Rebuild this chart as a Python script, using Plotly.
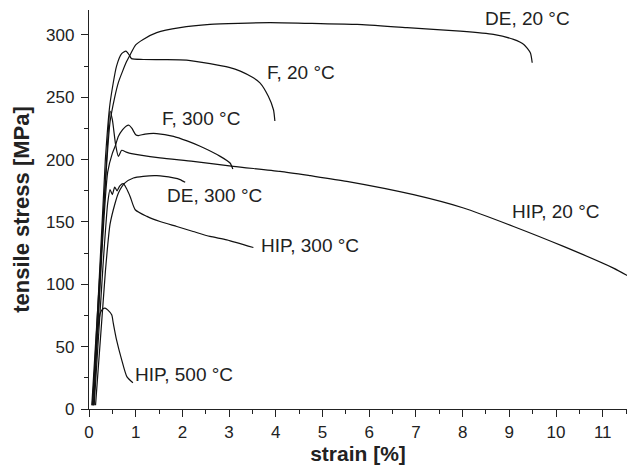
import plotly.graph_objects as go

# ---- data (strain [%], tensile stress [MPa]) ----
de20_x = [0.10, 0.30, 0.45, 0.55, 0.63, 0.72, 0.81, 0.88, 1.00, 1.16, 1.45, 1.95, 2.59, 3.20, 3.88, 4.77, 5.74, 6.81, 7.95, 8.66, 9.09, 9.31, 9.45, 9.49]
de20_y = [3, 150, 230, 250, 262, 271, 279, 284, 292, 296.4, 301.8, 305.8, 308.4, 309.3, 309.8, 309.2, 308.4, 305.8, 303, 300.4, 296.4, 292.4, 285.7, 277.7]

f20_x = [0.08, 0.35, 0.45, 0.59, 0.70, 0.79, 0.86, 0.91, 1.16, 1.60, 2.09, 2.59, 3.00, 3.24, 3.50, 3.66, 3.84, 3.95, 3.98]
f20_y = [3, 200, 245, 275, 285, 287, 284, 281, 280.3, 280.2, 279.8, 277, 274, 271, 266, 261.6, 250.8, 240, 231]

f300_x = [0.10, 0.40, 0.50, 0.56, 0.63, 0.72, 0.80, 0.857, 0.92, 1.00, 1.06, 1.20, 1.45, 1.81, 2.10, 2.38, 2.81, 3.02, 3.08]
f300_y = [3, 190, 205, 210.7, 218.7, 224, 227, 227.6, 225, 220, 219.3, 220.5, 220.9, 218.7, 215, 210.7, 202.6, 197.3, 192.5]

hip20_x = [0.06, 0.30, 0.40, 0.45, 0.50, 0.57, 0.63, 0.70, 0.80, 0.91, 1.52, 2.23, 3.09, 4.09, 4.74, 5.52, 6.95, 8.02, 9.09, 10.16, 11.23, 11.56]
hip20_y = [3, 150, 215, 239, 232, 212, 202.6, 207.5, 206, 204.8, 201.4, 198.6, 194.6, 190.6, 187.1, 182.6, 171.9, 161.2, 146.4, 130.4, 113, 106.3]

de300_x = [0.14, 0.35, 0.45, 0.56, 0.63, 0.77, 0.95, 1.16, 1.45, 1.81, 1.95, 2.06]
de300_y = [3, 110, 148, 165.2, 173.3, 181.3, 185.3, 186.6, 187.1, 185.3, 184, 181.8]

hip300_x = [0.11, 0.30, 0.40, 0.45, 0.50, 0.55, 0.60, 0.66, 0.735, 0.80, 0.88, 0.99, 1.24, 1.52, 1.88, 2.23, 2.59, 2.95, 3.52]
hip300_y = [3, 115, 165, 176, 172, 178, 175, 179, 180.7, 177, 170.5, 159.8, 154.5, 150.4, 146.4, 142.4, 138.4, 135.7, 129.5]

hip500_x = [0.07, 0.18, 0.24, 0.29, 0.343, 0.40, 0.486, 0.52, 0.59, 0.70, 0.81, 0.94]
hip500_y = [3, 60, 76.8, 80, 80.9, 79.5, 75.5, 68.8, 55.4, 39.4, 26, 21.1]

series = [
    (de20_x, de20_y), (f20_x, f20_y), (f300_x, f300_y), (hip20_x, hip20_y),
    (de300_x, de300_y), (hip300_x, hip300_y), (hip500_x, hip500_y),
]

label_text = ["DE, 20 °C", "F, 20 °C", "F, 300 °C", "DE, 300 °C", "HIP, 300 °C", "HIP, 20 °C", "HIP, 500 °C"]
label_x = [8.44, 3.77, 1.52, 1.63, 3.63, 9.02, 0.95]
label_y = [313.3, 269.9, 232.9, 171.1, 130.9, 158.2, 27.3]

FONT = "Liberation Sans, Arial, sans-serif"

fig = go.Figure()
for xs, ys in series:
    fig.add_trace(go.Scatter(x=xs, y=ys, mode="lines",
                             line=dict(color="#111111", width=1.2, shape="spline", smoothing=0.6),
                             showlegend=False, hoverinfo="skip"))

for t, x, y in zip(label_text, label_x, label_y):
    fig.add_annotation(x=x, y=y, text=t, showarrow=False, xanchor="left", yanchor="middle",
                       font=dict(family=FONT, size=19, color="#222222"))

axis_common = dict(
    showgrid=False, zeroline=False, showline=True, linecolor="#222222", linewidth=1.3,
    ticks="outside", ticklen=7, tickwidth=1.3, tickcolor="#222222",
    tickfont=dict(family=FONT, size=17, color="#222222"),
    mirror=False, automargin=False,
)

fig.update_layout(
    width=638, height=472,
    margin=dict(l=89, r=11, t=10, b=63, autoexpand=False),
    paper_bgcolor="white", plot_bgcolor="white",
    xaxis=dict(range=[0, 11.52], dtick=1, tick0=0,
               minor=dict(dtick=0.5, ticks="outside", ticklen=4, tickwidth=1.3, tickcolor="#222222"),
               title=dict(text="<b>strain [%]</b>", standoff=5,
                          font=dict(family=FONT, size=21, color="#222222")),
               **axis_common),
    yaxis=dict(range=[0, 320], dtick=50, tick0=0, ticklabelstandoff=3,
               minor=dict(dtick=25, ticks="outside", ticklen=4, tickwidth=1.3, tickcolor="#222222"),
               title=dict(text="<b>tensile stress [MPa]</b>", standoff=10,
                          font=dict(family=FONT, size=22, color="#222222")),
               **axis_common),
)

fig.write_html("out.html", config={"displayModeBar": False},
               post_script="document.body.style.margin='0';document.body.style.overflow='hidden';")
